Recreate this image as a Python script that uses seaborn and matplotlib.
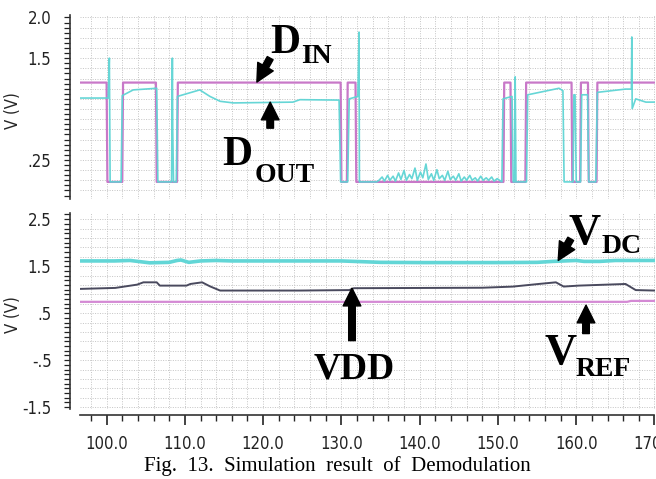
import numpy as np
import pandas as pd
import matplotlib
matplotlib.use("Agg")
import matplotlib.pyplot as plt
from matplotlib import font_manager as fm
from matplotlib.ticker import MultipleLocator, FixedLocator, FuncFormatter
import seaborn as sns

# ---------------- data ----------------
# Top panel: D_IN (digital input) and D_OUT (demodulated output)
din_t = [96.6, 100.0, 100.1, 102.0, 102.1, 106.3, 106.4, 109.0, 109.1, 129.9,
         130.0, 130.7, 130.8, 131.8, 131.9, 150.7, 150.8, 151.6, 151.7, 153.5,
         153.6, 159.4, 159.5, 160.5, 160.6, 161.5, 161.6, 162.6, 162.7, 170.0]
din_v = [1.2, 1.2, -0.02, -0.02, 1.2, 1.2, -0.02, -0.02, 1.2, 1.2,
         -0.02, -0.02, 1.2, 1.2, -0.02, -0.02, 1.2, 1.2, -0.02, -0.02,
         1.2, 1.2, -0.02, -0.02, 1.2, 1.2, -0.02, -0.02, 1.2, 1.2]

dout_t_a = [96.6, 100.2, 100.35, 100.45, 100.55, 101.85, 102.0, 103.4, 106.4, 106.55,
            106.7, 108.3, 108.4, 108.45, 108.55, 108.9, 109.05, 111.9, 113.2, 114.5,
            116.2, 123.8, 124.7, 129.7, 129.9, 130.8, 131.0, 132.1, 132.25, 132.3,
            132.4, 134.5]
dout_v_a = [1.01, 1.01, 1.5, -0.02, -0.02, -0.02, 1.04, 1.11, 1.13, -0.02,
            -0.02, -0.02, 1.5, 0.6, -0.02, -0.02, 1.03, 1.11, 1.03, 0.97,
            0.95, 0.96, 0.99, 0.985, -0.02, -0.02, 1.0, 1.03, 1.82, -0.02,
            -0.02, -0.02]
noise_t = [134.8, 135.2, 135.5, 135.9, 136.2, 136.6, 136.9, 137.3, 137.6, 138.0,
           138.3, 138.7, 139.0, 139.4, 139.7, 140.1, 140.4, 140.8, 141.1, 141.5,
           141.8, 142.2, 142.5, 142.9, 143.2, 143.6, 143.9, 144.3, 144.6, 145.0,
           145.3, 145.7, 146.0, 146.4, 146.7, 147.1, 147.4, 147.8, 148.1, 148.5,
           148.8, 149.2, 149.5, 149.9, 150.2]
noise_v = [0.0, 0.04, -0.01, 0.06, 0.0, 0.05, -0.01, 0.09, 0.01, 0.12,
           0.0, 0.07, 0.02, 0.15, 0.0, 0.1, 0.03, 0.2, 0.01, 0.08,
           0.0, 0.13, 0.02, 0.06, 0.0, 0.11, 0.01, 0.05, 0.0, 0.08,
           -0.01, 0.04, 0.0, 0.06, 0.0, 0.03, -0.01, 0.05, 0.0, 0.03,
           0.0, 0.04, -0.01, 0.02, 0.0]
dout_t_b = [150.5, 150.65, 151.8, 151.95, 152.15, 152.2, 152.3, 153.65, 153.8, 157.8,
            158.3, 158.45, 159.6, 159.7, 159.85, 160.0, 160.55, 160.7, 161.45, 161.6,
            162.5, 162.7, 166.3, 167.05, 167.1, 167.15, 167.6, 168.9, 170.0]
dout_v_b = [-0.02, 1.0, 1.03, -0.02, -0.02, 1.27, -0.02, -0.02, 1.05, 1.13,
            1.1, -0.02, -0.02, 1.05, 1.05, -0.02, -0.02, 1.05, 1.05, -0.02,
            -0.02, 1.08, 1.12, 1.12, 1.76, 0.88, 1.0, 0.96, 0.96]

# Bottom panel: V_DC, VDD, V_REF
vdc_t = [96.6, 101.0, 103.0, 104.0, 105.5, 108.0, 109.0, 109.5, 110.5, 112.0, 114.0, 116.0,
         130.0, 135.0, 140.0, 150.0, 155.0, 157.0, 160.0, 161.0, 163.0, 165.0, 170.0]
vdc_v = [1.61, 1.61, 1.62, 1.60, 1.57, 1.58, 1.62, 1.63, 1.58, 1.61, 1.62, 1.61,
         1.61, 1.58, 1.575, 1.575, 1.58, 1.60, 1.62, 1.60, 1.60, 1.62, 1.62]
vdd_t = [96.6, 101.1, 103.9, 104.7, 106.4, 106.8, 110.2, 110.7, 112.2, 113.2, 114.5, 124.7,
         131.0, 131.6, 148.0, 151.9, 155.2, 157.4, 158.4, 160.3, 166.3, 167.6, 170.0]
vdd_v = [1.015, 1.036, 1.106, 1.155, 1.155, 1.085, 1.085, 1.12, 1.155, 1.07, 0.98, 0.98,
         0.99, 1.03, 1.04, 1.064, 1.12, 1.155, 1.065, 1.085, 1.12, 0.99, 0.98]
vref_t = [96.6, 166.5, 167.0, 170.0]
vref_v = [0.74, 0.74, 0.76, 0.76]

x_ticks = [100, 110, 120, 130, 140, 150, 160, 170]
x_ticklabels = ["100.0", "110.0", "120.0", "130.0", "140.0", "150.0", "160.0", "170.0"]
top_ytick_vals = [2.0, 1.5, 0.25, -0.25]
top_ytick_labels = ["2.0", "1.5", ".25", "-.25"]
bot_ytick_vals = [2.5, 1.5, 0.5, -0.5, -1.5]
bot_ytick_labels = ["2.5", "1.5", ".5", "-.5", "-1.5"]
caption = "Fig.  13.  Simulation  result  of  Demodulation"

# ---------------- style ----------------
sns.set_style("ticks")
_entries = fm.fontManager.ttflist
_names = {f.name for f in _entries}
if "Liberation Sans Narrow" in _names:
    tick_family, tick_stretch, tick_size = "Liberation Sans Narrow", "normal", 12.5
elif any(f.name == "DejaVu Sans" and str(f.stretch) in ("condensed", "semi-condensed") for f in _entries):
    tick_family, tick_stretch, tick_size = "DejaVu Sans", "condensed", 12
else:
    tick_family, tick_stretch, tick_size = "Liberation Sans", "normal", 11
plt.rcParams["font.family"] = [tick_family, "DejaVu Sans"]
plt.rcParams["font.stretch"] = tick_stretch

top_df = pd.concat([
    pd.DataFrame({"t": din_t, "v": din_v, "sig": "DIN"}),
    pd.DataFrame({"t": dout_t_a + noise_t + dout_t_b,
                  "v": dout_v_a + noise_v + dout_v_b, "sig": "DOUT"}),
])
bot_df = pd.concat([
    pd.DataFrame({"t": vdc_t, "v": vdc_v, "sig": "VDC"}),
    pd.DataFrame({"t": vdd_t, "v": vdd_v, "sig": "VDD"}),
    pd.DataFrame({"t": vref_t, "v": vref_v, "sig": "VREF"}),
])

fig = plt.figure(figsize=(6.56, 4.79), dpi=100)
ax_top = fig.add_axes([80 / 656, 1 - 199 / 479, 574.5 / 656, 184 / 479])
ax_bot = fig.add_axes([80 / 656, 1 - 409 / 479, 574.5 / 656, 196 / 479])

grid_kw = dict(color="#c4c4c4", linestyle=(0, (1, 1.5)), linewidth=0.7)

# top traces
sns.lineplot(data=top_df[top_df.sig == "DIN"], x="t", y="v", ax=ax_top,
             estimator=None, sort=False, color="#c878c8", linewidth=1.6)
sns.lineplot(data=top_df[top_df.sig == "DOUT"], x="t", y="v", ax=ax_top,
             estimator=None, sort=False, color="#5ed4d4", linewidth=1.2, alpha=0.95)

# bottom traces
sns.lineplot(data=bot_df[bot_df.sig == "VREF"], x="t", y="v", ax=ax_bot,
             estimator=None, sort=False, color="#d48ad4", linewidth=1.6)
sns.lineplot(data=bot_df[bot_df.sig == "VDD"], x="t", y="v", ax=ax_bot,
             estimator=None, sort=False, color="#4a4a5e", linewidth=1.4)
sns.lineplot(data=bot_df[bot_df.sig == "VDC"], x="t", y="v", ax=ax_bot,
             estimator=None, sort=False, color="#62d6d6", linewidth=2.6)


def label_fmt(vals, labels):
    def f(x, pos):
        for v, l in zip(vals, labels):
            if abs(x - v) < 1e-6:
                return l
        return ""
    return FuncFormatter(f)


for ax in (ax_top, ax_bot):
    ax.set_xlim(96.6, 170.0)
    ax.xaxis.set_major_locator(FixedLocator(x_ticks))
    ax.xaxis.set_minor_locator(MultipleLocator(2))
    ax.grid(True, which="both", axis="x", **grid_kw)
    ax.grid(True, which="major", axis="y", **grid_kw)
    ax.set_xlabel("")
    ax.set_ylabel("V (V)", fontsize=tick_size)
    ax.yaxis.set_label_coords(-0.101, 0.48)
    ax.tick_params(axis="y", which="both", direction="out", length=4.5, width=0.9,
                   labelsize=tick_size, pad=9, colors="#222222")
    ax.set_axisbelow(True)

# top axis
ax_top.set_ylim(-0.23, 2.03)
ax_top.yaxis.set_major_locator(FixedLocator(np.arange(-0.25, 2.001, 0.125)))
ax_top.yaxis.set_minor_locator(MultipleLocator(0.0625))
ax_top.yaxis.set_major_formatter(label_fmt(top_ytick_vals, top_ytick_labels))
ax_top.tick_params(axis="x", which="both", bottom=False, labelbottom=False)
sns.despine(ax=ax_top, bottom=True, offset={"left": 7})

# bottom axis
ax_bot.set_ylim(-1.54, 2.63)
ax_bot.yaxis.set_major_locator(FixedLocator(np.arange(-1.5, 2.51, 0.2)))
ax_bot.yaxis.set_minor_locator(MultipleLocator(0.1))
ax_bot.yaxis.set_major_formatter(label_fmt(bot_ytick_vals, bot_ytick_labels))
ax_bot.set_xticklabels(x_ticklabels)
ax_bot.tick_params(axis="x", which="major", direction="out", length=7, width=1.2,
                   labelsize=tick_size, pad=8, colors="#222222")
ax_bot.tick_params(axis="x", which="minor", direction="out", length=4, width=1.0)
sns.despine(ax=ax_bot, offset={"left": 7, "bottom": 4})
for ax in (ax_top, ax_bot):
    for s in ("left", "bottom"):
        ax.spines[s].set_linewidth(1.2)
        ax.spines[s].set_color("#333333")

# ---------------- annotations ----------------
serif = dict(family="Liberation Serif", weight="bold", color="black", stretch="normal")
arrow = dict(arrowstyle="simple,head_length=0.75,head_width=0.75,tail_width=0.28",
             color="black", mutation_scale=17, shrinkA=0, shrinkB=0)

ax_top.text(120.9, 1.56, "D", fontsize=30, **serif)
ax_top.text(124.9, 1.44, "IN", fontsize=20, **serif)
ax_top.annotate("", xy=(119.2, 1.206), xytext=(120.9, 1.50), arrowprops=arrow)
ax_top.text(114.75, 0.19, "D", fontsize=30, **serif)
ax_top.text(118.9, -0.02, "OUT", fontsize=20, **serif)
ax_top.annotate("", xy=(120.9, 0.96), xytext=(120.9, 0.64), arrowprops=arrow)

ax_bot.text(159.0, 1.98, "V", fontsize=32, **serif)
ax_bot.text(163.2, 1.77, "DC", fontsize=20, **serif)
ax_bot.annotate("", xy=(157.7, 1.62), xytext=(159.3, 2.08), arrowprops=arrow)
ax_bot.text(126.4, -0.9, "VDD", fontsize=27, **serif)
ax_bot.annotate("", xy=(131.35, 1.03), xytext=(131.35, -0.085), arrowprops=arrow)
ax_bot.text(155.9, -0.58, "V", fontsize=32, **serif)
ax_bot.text(159.9, -0.83, "REF", fontsize=20, **serif)
ax_bot.annotate("", xy=(161.25, 0.67), xytext=(161.25, 0.065), arrowprops=arrow)

fig.text(0.514, 0.016, caption, ha="center", va="baseline", fontsize=15,
         family="Liberation Serif", stretch="normal", color="black")

fig.savefig("out.png", dpi=100)
